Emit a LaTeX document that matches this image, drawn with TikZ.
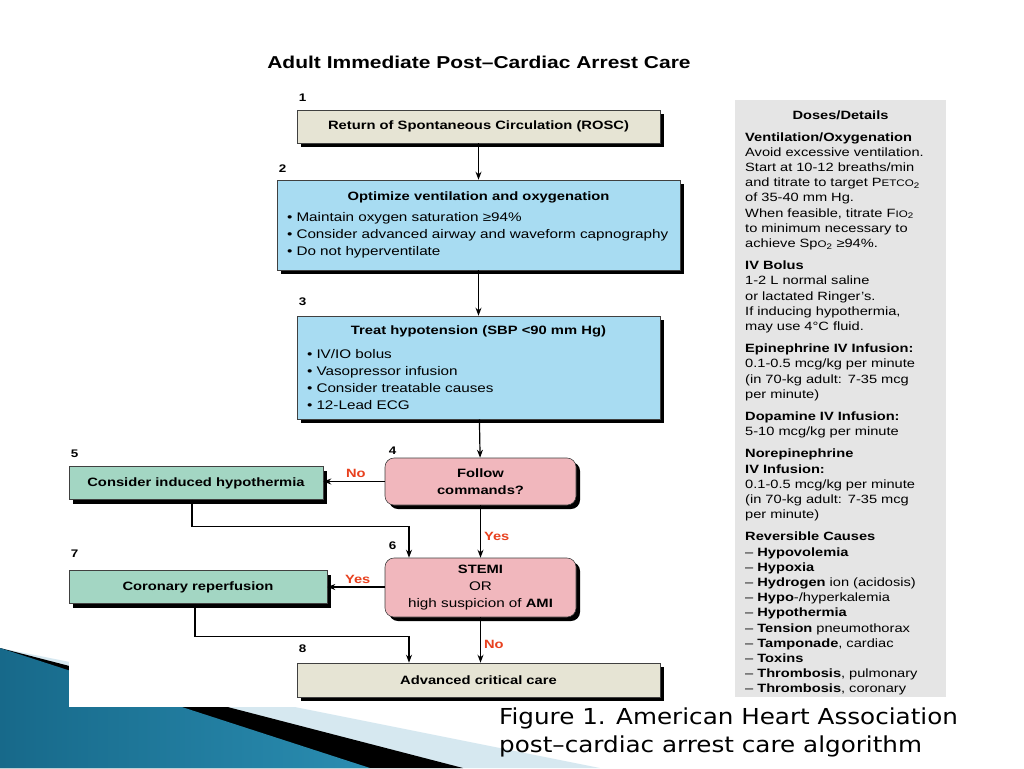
\documentclass[tikz,border=0pt]{standalone}
\usepackage{fontspec}
\setmainfont{Liberation Sans}
\newfontfamily\flowfont[FakeStretch=1.22]{Liberation Sans}
\newfontfamily\capfont[FakeStretch=1.12]{DejaVu Sans}
\usetikzlibrary{positioning,shadows,arrows.meta}
\definecolor{boxbeige}{HTML}{E6E4D4}
\definecolor{boxblue}{HTML}{A8DCF2}
\definecolor{boxpink}{HTML}{F1B7BD}
\definecolor{boxgreen}{HTML}{A3D6C3}
\definecolor{panelgray}{HTML}{E5E5E5}
\definecolor{ansred}{HTML}{E8401E}
\definecolor{slidedark}{HTML}{17698A}
\definecolor{slidelight}{HTML}{5BBBDA}
\definecolor{slidetip}{HTML}{2A8DB1}
\definecolor{slidepale}{HTML}{D6E8F0}
\newcommand\smallcap[1]{{\fontsize{9.5}{10}\selectfont #1}}
\newcommand\petco{P\smallcap{ETCO}\textsubscript{2}}
\newcommand\fio{F\smallcap{IO}\textsubscript{2}}
\newcommand\spo{Sp\smallcap{O}\textsubscript{2}}
\begin{document}
\begin{tikzpicture}[x=1pt,y=-1pt,
    flowbox/.style={draw=black!75,line width=.6pt,inner sep=0pt,
      drop shadow={shadow xshift=4pt,shadow yshift=-4pt,opacity=1,fill=black},
      font=\flowfont\fontsize{12.1}{17}\selectfont\bfseries},
    beigebox/.style={flowbox,fill=boxbeige,minimum width=363pt,minimum height=33pt},
    bluebox/.style={flowbox,fill=boxblue,align=left,font=\flowfont\fontsize{12.5}{17}\selectfont},
    pinkbox/.style={flowbox,fill=boxpink,rounded corners=9pt,align=center,
      minimum width=191pt},
    greenbox/.style={flowbox,fill=boxgreen,minimum height=33pt},
    stepnum/.style={inner sep=0pt,font=\flowfont\fontsize{11}{11}\selectfont\bfseries},
    ans/.style={inner sep=3pt,text=ansred,font=\flowfont\fontsize{12}{12}\selectfont\bfseries},
    arr/.style={-{Stealth[length=8pt,width=6pt]},line width=1.2pt}]
 \useasboundingbox (0,0) rectangle (1024,768);
 % slide corner
 \fill[slidepale] (0,648) -- (600,768) -- (0,768) -- cycle;
 \fill[black] (0,648) -- (463,768) -- (0,768) -- cycle;
 \shade[left color=slidedark,middle color=slidelight,right color=slidetip]
  (0,648) -- (370,768) -- (0,768) -- cycle;
 \fill[white] (69,40) rectangle (960,707);
 \node[font=\flowfont\fontsize{17.2}{19}\selectfont\bfseries] (title) at (479,62)
  {Adult Immediate Post–Cardiac Arrest Care};
 % main column
 \node[beigebox] (rosc) at (478.5,126.5) {Return of Spontaneous Circulation (ROSC)};
 \node[bluebox,minimum height=90pt,text width=383pt,inner xsep=10pt] (oxy) at (478.5,225)
  {{\centering\fontsize{12.1}{17}\selectfont\bfseries Optimize ventilation and oxygenation\par}\vspace{4pt}
   \textbullet\ Maintain oxygen saturation ≥94\%\\
   \textbullet\ Consider advanced airway and waveform capnography\\
   \textbullet\ Do not hyperventilate};
 \node[bluebox,minimum height=103pt,text width=343pt,inner xsep=10pt] (bp) at (478.5,367.5)
  {{\centering\fontsize{12.1}{17}\selectfont\bfseries Treat hypotension (SBP <90 mm Hg)\par}\vspace{7pt}
   \textbullet\ IV/IO bolus\\
   \textbullet\ Vasopressor infusion\\
   \textbullet\ Consider treatable causes\\
   \textbullet\ 12-Lead ECG};
 \node[pinkbox,minimum height=47pt] (follow) at (480.5,481.5) {Follow\\commands?};
 \node[greenbox,minimum width=254pt] (cool) at (196,483) {Consider induced hypothermia};
 \node[pinkbox,minimum height=59pt] (stemi) at (480.5,587.5)
  {STEMI\\{\mdseries\fontsize{12.5}{17}\selectfont OR}\\
   {\mdseries\fontsize{12.5}{17}\selectfont high suspicion of} AMI};
 \node[greenbox,minimum width=258pt] (reperf) at (198,587) {Coronary reperfusion};
 \node[beigebox,minimum height=34pt] (care) at (478.5,680) {Advanced critical care};
 % step numbers
 \node[stepnum,above right=8pt and 2pt of rosc.north west] {1};
 \node[stepnum,above right=7pt and 2pt of oxy.north west] {2};
 \node[stepnum,above right=10pt and 2pt of bp.north west] {3};
 \node[stepnum,above right=3pt and 4pt of follow.north west] {4};
 \node[stepnum,above right=8pt and 2pt of cool.north west] {5};
 \node[stepnum,above right=8pt and 4pt of stemi.north west] {6};
 \node[stepnum,above right=13pt and 2pt of reperf.north west] {7};
 \node[stepnum,above right=10pt and 2pt of care.north west] {8};
 % connectors
 \draw[arr] (rosc) -- (oxy);
 \draw[arr] (oxy) -- (bp);
 \draw[arr] (bp) -- (follow);
 \draw[arr] (follow.west) -- (follow.west -| cool.east) node[ans,pos=.47,above] {No};
 \draw[arr] ([xshift=-4pt]cool.south) -- ++(0,27) -| ([xshift=-71.5pt]stemi.north);
 \draw[arr] (follow) -- (stemi) node[ans,pos=.6,right] {Yes};
 \draw[arr] (stemi.west |- reperf) -- (reperf.east) node[ans,pos=.47,above] {Yes};
 \draw[arr] ([xshift=-3pt]reperf.south) -- ++(0,33) -| ([xshift=-69.5pt]care.north);
 \draw[arr] (stemi.south) -- (stemi.south |- care.north) node[ans,pos=.6,right] {No};
 % doses panel
 \node[fill=panelgray,minimum width=211pt,minimum height=597pt,inner sep=0pt] (details)
  at (840.5,398.5) {};
 \node[font=\flowfont\fontsize{12}{14}\selectfont\bfseries] (dhead) at (840.5,115) {Doses/Details};
 \node[anchor=base west,inner sep=0pt,text width=200pt,align=left,
   font=\flowfont\fontsize{12}{15.2}\selectfont] (doses) at (745,141)
  {\textbf{Ventilation/Oxygenation}\\
   Avoid excessive ventilation.\\
   Start at 10-12 breaths/min\\
   and titrate to target \petco\\
   of 35-40 mm Hg.\\
   When feasible, titrate \fio\\
   to minimum necessary to\\
   achieve \spo\ ≥94\%.\\[7pt]
   \textbf{IV Bolus}\\
   1-2 L normal saline\\
   or lactated Ringer’s.\\
   If inducing hypothermia,\\
   may use 4°C fluid.\\[7pt]
   \textbf{Epinephrine IV Infusion:}\\
   0.1-0.5 mcg/kg per minute\\
   (in 70-kg adult: 7-35 mcg\\
   per minute)\\[7pt]
   \textbf{Dopamine IV Infusion:}\\
   5-10 mcg/kg per minute\\[7pt]
   \textbf{Norepinephrine}\\
   \textbf{IV Infusion:}\\
   0.1-0.5 mcg/kg per minute\\
   (in 70-kg adult: 7-35 mcg\\
   per minute)\\[7pt]
   \textbf{Reversible Causes}\\
   – \textbf{Hypovolemia}\\
   – \textbf{Hypoxia}\\
   – \textbf{Hydrogen} ion (acidosis)\\
   – \textbf{Hypo}-/hyperkalemia\\
   – \textbf{Hypothermia}\\
   – \textbf{Tension} pneumothorax\\
   – \textbf{Tamponade}, cardiac\\
   – \textbf{Toxins}\\
   – \textbf{Thrombosis}, pulmonary\\
   – \textbf{Thrombosis}, coronary};
 % caption
 \node[anchor=base west,inner sep=0pt,align=left,
   font=\capfont\fontsize{22}{28.5}\selectfont] (caption) at (499,752.5)
  {Figure 1. American Heart Association\\post–cardiac arrest care algorithm};
\end{tikzpicture}
\end{document}
